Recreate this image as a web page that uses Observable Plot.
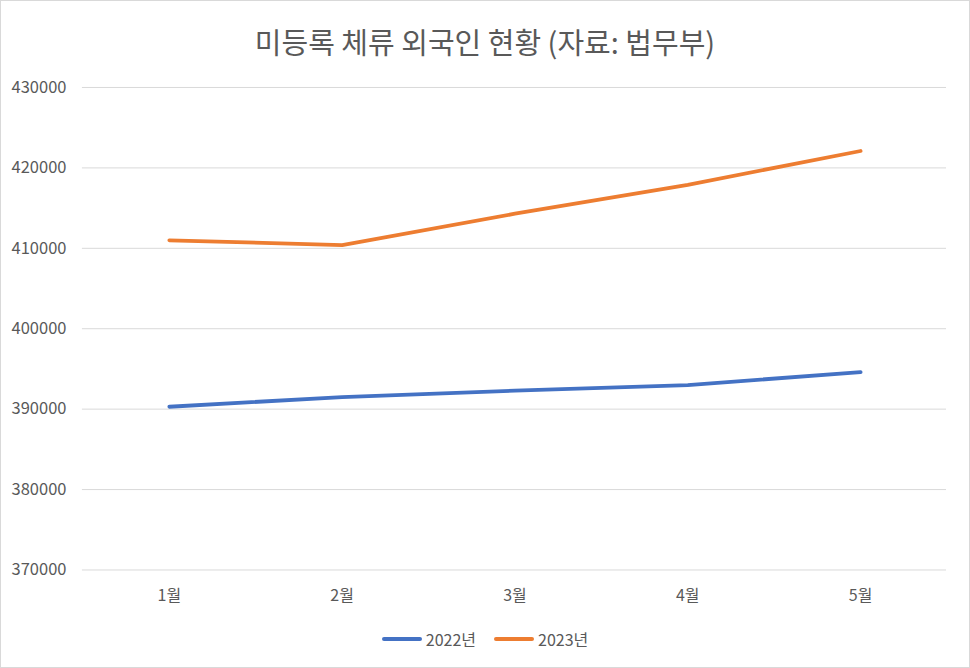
<!DOCTYPE html>
<html>
<head>
<meta charset="utf-8">
<script src="https://cdn.jsdelivr.net/npm/d3@7"></script>
<script src="https://cdn.jsdelivr.net/npm/@observablehq/plot@0.6"></script>
<style>
  html, body { margin: 0; padding: 0; background: #fff; }
  #wrap { position: relative; width: 968px; height: 666px; border: 1px solid #d9d9d9; background: #fff; font-family: "Noto Sans CJK KR", "Noto Sans", sans-serif; overflow: hidden; }
  #title { position: absolute; left: 0; top: 20px; width: 968px; text-align: center; font-size: 29px; color: #595959; line-height: 40px; }
  #chart { position: absolute; left: -1px; top: 69px; }
  #legend { position: absolute; left: 0; top: 626px; width: 968px; display: flex; justify-content: center; gap: 18px; font-size: 16px; color: #595959; }
  .item { display: flex; align-items: center; gap: 4px; }
  .sw { width: 40px; height: 4px; border-radius: 2px; }
</style>
</head>
<body>
<div id="wrap">
  <div id="title">미등록 체류 외국인 현황 (자료: 법무부)</div>
  <div id="chart"></div>
  <div id="legend"></div>
</div>
<script>
const months = ["1월", "2월", "3월", "4월", "5월"];
const series = ["2022년", "2023년"];
const values2022 = [390300, 391500, 392300, 393000, 394600];
const values2023 = [411000, 410400, 414300, 417900, 422100];
const yTicks = [370000, 380000, 390000, 400000, 410000, 420000, 430000];
const colors = ["#4472C4", "#ED7D31"];

const data = [];
months.forEach((m, i) => {
  data.push({month: m, value: values2022[i], series: series[0]});
  data.push({month: m, value: values2023[i], series: series[1]});
});

const chart = Plot.plot({
  width: 970,
  height: 545,
  marginLeft: 82,
  marginRight: 23,
  marginTop: 17,
  marginBottom: 45,
  style: {fontFamily: "'Noto Sans CJK KR', 'Noto Sans', sans-serif", fontSize: "16px", color: "#595959", background: "transparent"},
  x: {type: "point", domain: months, padding: 0.5, label: null},
  y: {domain: [370000, 430000], label: null},
  color: {domain: series, range: colors},
  marks: [
    Plot.ruleY(yTicks, {stroke: "#d9d9d9", strokeWidth: 1}),
    Plot.axisY({ticks: yTicks, tickSize: 0, tickPadding: 16, tickFormat: d3.format("d"), fill: "#595959", fontSize: 16.5}),
    Plot.axisX({tickSize: 0, tickPadding: 20, fill: "#595959", fontSize: 16}),
    Plot.line(data, {x: "month", y: "value", z: "series", stroke: "series", strokeWidth: 3.8, strokeLinecap: "round", strokeLinejoin: "round"})
  ]
});
document.getElementById("chart").appendChild(chart);

const legend = document.getElementById("legend");
series.forEach((s, i) => {
  const it = document.createElement("div");
  it.className = "item";
  const sw = document.createElement("div");
  sw.className = "sw";
  sw.style.background = colors[i];
  const t = document.createElement("span");
  t.textContent = s;
  it.appendChild(sw);
  it.appendChild(t);
  legend.appendChild(it);
});
</script>
</body>
</html>
